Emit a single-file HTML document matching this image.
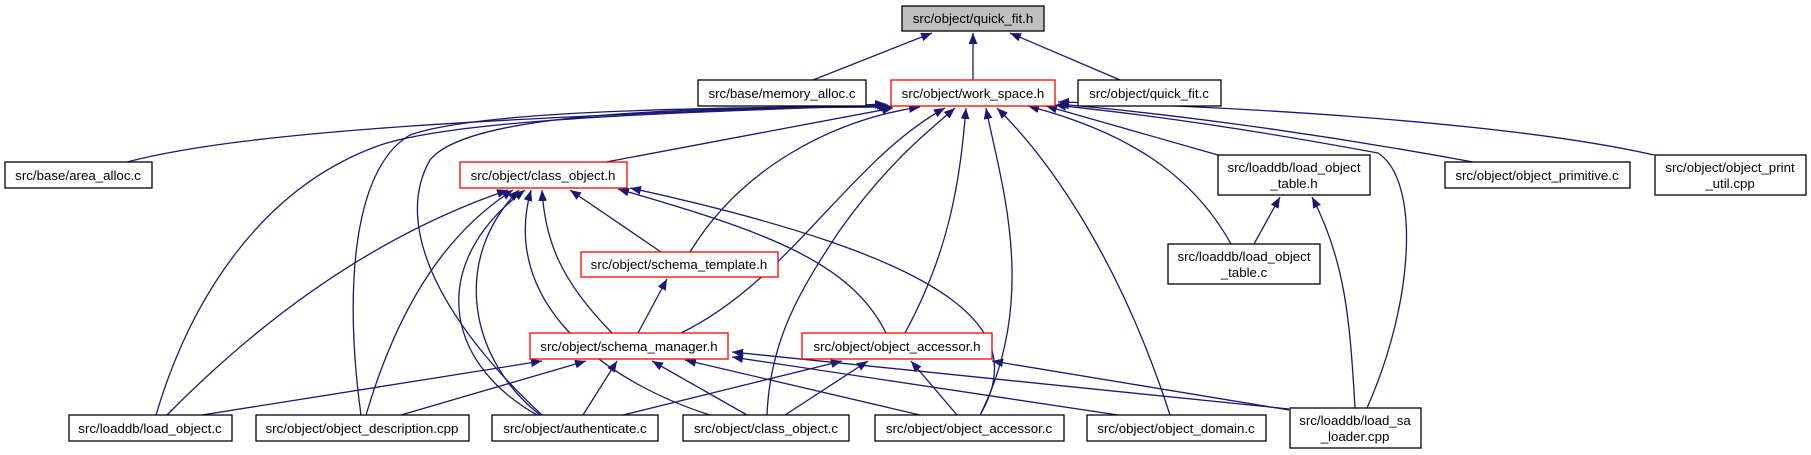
<!DOCTYPE html>
<html><head><meta charset="utf-8"><style>
html,body{margin:0;padding:0;background:#fff;}
svg{display:block;}
text{font-family:"Liberation Sans",sans-serif;font-size:13.3px;fill:#000;}
.e{fill:none;stroke:#191970;stroke-width:1.3;}
.n{fill:#fff;stroke:#000;stroke-width:1.3;}
.r{fill:#fff;stroke:#ff0000;stroke-width:1.3;}
</style></head><body>
<svg width="1811" height="455" viewBox="0 0 1811 455" xmlns="http://www.w3.org/2000/svg">
<defs><marker id="a" viewBox="0 0 10 8" refX="10" refY="4" markerWidth="11" markerHeight="9" markerUnits="userSpaceOnUse" orient="auto"><path d="M0,0 L10,4 L0,8 z" fill="#191970"/></marker></defs>
<g marker-end="url(#a)">
<path class="e" d="M813,80 L932,33"/>
<path class="e" d="M973,80 L973,33"/>
<path class="e" d="M1120,80 L1010,33"/>
<path class="e" d="M127,162 C250,130 500,118 886,104"/>
<path class="e" d="M156,415 C190,300 260,190 375,147 C450,118 700,112 888,105"/>
<path class="e" d="M361,415 C345,300 350,170 410,135 C480,110 700,108 890,106"/>
<path class="e" d="M542,415 C450,330 390,230 430,160 C470,110 700,108 892,107"/>
<path class="e" d="M606,162 L893,108"/>
<path class="e" d="M690,252 C740,170 830,120 920,107"/>
<path class="e" d="M681,333 C790,280 850,160 945,108"/>
<path class="e" d="M767,415 C770,340 800,290 840,230 C890,160 930,130 955,108"/>
<path class="e" d="M905,333 C950,250 960,180 966,108"/>
<path class="e" d="M980,415 C1040,297 1000,180 986,108"/>
<path class="e" d="M1170,415 C1120,260 1050,160 997,108"/>
<path class="e" d="M1231,244 C1190,170 1120,130 1028,106"/>
<path class="e" d="M1218,155 L1046,106"/>
<path class="e" d="M1367,408 C1415,300 1420,180 1378,153 C1200,120 1100,110 1055,105"/>
<path class="e" d="M1473,162 C1300,130 1150,112 1058,104"/>
<path class="e" d="M1654,155 C1500,120 1200,105 1058,102"/>
<path class="e" d="M167,415 C300,280 420,220 508,190"/>
<path class="e" d="M366,415 C400,300 450,230 513,190"/>
<path class="e" d="M540,415 C470,360 450,260 519,190"/>
<path class="e" d="M537,415 C440,360 430,260 525,190"/>
<path class="e" d="M710,415 C600,380 500,300 531,190"/>
<path class="e" d="M612,333 C560,280 545,240 542,190"/>
<path class="e" d="M661,252 L570,190"/>
<path class="e" d="M886,333 C850,260 760,230 618,189"/>
<path class="e" d="M980,415 C1030,330 960,260 630,188"/>
<path class="e" d="M638,333 L667,279"/>
<path class="e" d="M202,415 L542,361"/>
<path class="e" d="M401,415 L586,361"/>
<path class="e" d="M583,415 L617,361"/>
<path class="e" d="M747,415 L652,361"/>
<path class="e" d="M920,415 L685,360"/>
<path class="e" d="M1118,415 L732,357"/>
<path class="e" d="M1289,409 L732,352"/>
<path class="e" d="M623,415 L842,361"/>
<path class="e" d="M785,415 L868,361"/>
<path class="e" d="M957,415 L911,361"/>
<path class="e" d="M1289,410 L992,361"/>
<path class="e" d="M1254,244 L1280,197"/>
<path class="e" d="M1355,408 C1350,320 1345,260 1312,197"/>
</g>
<rect x="902" y="6" width="142" height="25" fill="#bfbfbf" stroke="#000" stroke-width="1.3"/>
<text x="973" y="23" text-anchor="middle">src/object/quick_fit.h</text>
<rect class="n" x="698" y="80" width="168" height="26"/><text x="782" y="98" text-anchor="middle">src/base/memory_alloc.c</text>
<rect class="r" x="891" y="80" width="164" height="26"/><text x="973" y="98" text-anchor="middle">src/object/work_space.h</text>
<rect class="n" x="1078" y="80" width="143" height="26"/><text x="1149" y="98" text-anchor="middle">src/object/quick_fit.c</text>
<rect class="n" x="5" y="162" width="147" height="26"/><text x="78" y="180" text-anchor="middle">src/base/area_alloc.c</text>
<rect class="r" x="460" y="162" width="167" height="26"/><text x="543" y="180" text-anchor="middle">src/object/class_object.h</text>
<rect class="r" x="581" y="252" width="197" height="25"/><text x="679" y="269" text-anchor="middle">src/object/schema_template.h</text>
<rect class="r" x="530" y="333" width="198" height="26"/><text x="629" y="351" text-anchor="middle">src/object/schema_manager.h</text>
<rect class="r" x="802" y="333" width="190" height="26"/><text x="897" y="351" text-anchor="middle">src/object/object_accessor.h</text>
<rect class="n" x="1218" y="155" width="152" height="40"/><text x="1294" y="172" text-anchor="middle">src/loaddb/load_object</text><text x="1294" y="188" text-anchor="middle">_table.h</text>
<rect class="n" x="1445" y="162" width="185" height="26"/><text x="1537" y="180" text-anchor="middle">src/object/object_primitive.c</text>
<rect class="n" x="1655" y="155" width="151" height="40"/><text x="1730" y="172" text-anchor="middle">src/object/object_print</text><text x="1730" y="188" text-anchor="middle">_util.cpp</text>
<rect class="n" x="1168" y="244" width="152" height="40"/><text x="1244" y="261" text-anchor="middle">src/loaddb/load_object</text><text x="1244" y="277" text-anchor="middle">_table.c</text>
<rect class="n" x="69" y="415" width="163" height="26"/><text x="150" y="433" text-anchor="middle">src/loaddb/load_object.c</text>
<rect class="n" x="256" y="415" width="213" height="26"/><text x="362" y="433" text-anchor="middle">src/object/object_description.cpp</text>
<rect class="n" x="492" y="415" width="166" height="26"/><text x="575" y="433" text-anchor="middle">src/object/authenticate.c</text>
<rect class="n" x="683" y="415" width="166" height="26"/><text x="766" y="433" text-anchor="middle">src/object/class_object.c</text>
<rect class="n" x="875" y="415" width="189" height="26"/><text x="969" y="433" text-anchor="middle">src/object/object_accessor.c</text>
<rect class="n" x="1087" y="415" width="179" height="26"/><text x="1176" y="433" text-anchor="middle">src/object/object_domain.c</text>
<rect class="n" x="1290" y="408" width="131" height="40"/><text x="1355" y="425" text-anchor="middle">src/loaddb/load_sa</text><text x="1355" y="441" text-anchor="middle">_loader.cpp</text>
</svg>
</body></html>
